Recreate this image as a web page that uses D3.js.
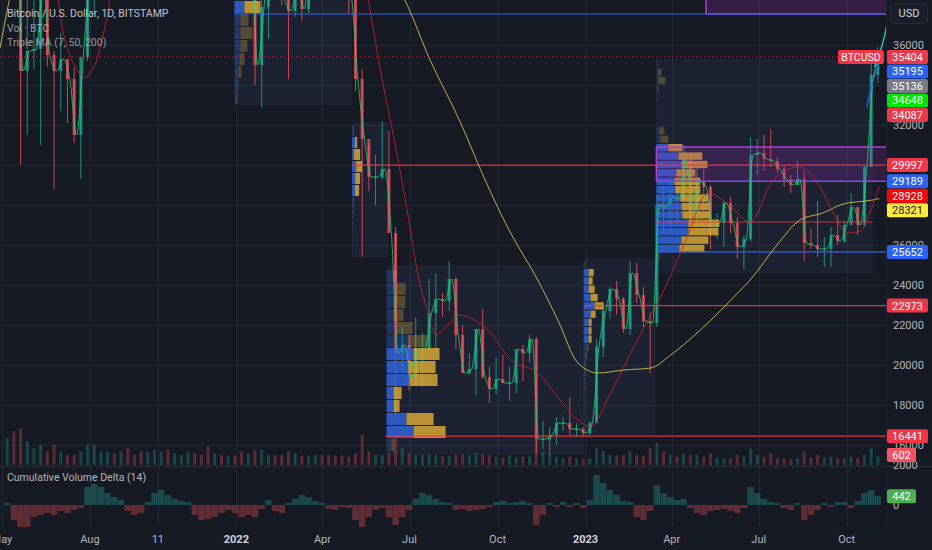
<!DOCTYPE html>
<html>
<head>
<meta charset="utf-8">
<script src="https://cdn.jsdelivr.net/npm/d3@7.9.0/dist/d3.min.js"></script>
<style>
  html, body { margin: 0; padding: 0; background: #161a25; }
  svg { display: block; font-family: Roboto, "Noto Sans", sans-serif; }
</style>
</head>
<body>
<svg id="chart" width="932" height="550"></svg>
<script>
// ─── Data (prices in thousands of USD, weekly candles) ────
const FIRST_WEEK = '2021-05-03';
const FIRST_OPEN_K = 56.6;

const highK = [59.5,59.6,45.8,40.9,39.5,39.3,41.3,35.7,36.6,35.1,34.9,34.5,40.9,
  44.7,47.2,49.4,50.5,52.9,52.9,48.8,47.4,48.5,56.6,62.0,67.0,63.7,63.5,69.0,66.3,59.3,59.2,51.9,50.1,51.9,52.1,
  47.5,44.4,43.5,38.9,42.6,45.8,44.7,39.8,45.4,42.6,42.4,47.5,48.2,47.0,42.4,42.9,40.8,
  40.0,34.8,31.0,30.5,32.2,31.7,26.9,21.9,21.5,
  22.4,21.6,24.3,24.6,23.6,25.2,24.4,22.0,20.6,21.8,22.8,19.9,20.4,20.5,19.9,19.7,21.0,21.5,
  21.4,17.2,16.9,17.4,17.4,18.4,17.1,16.9,
  17.2,21.3,23.0,23.9,24.2,23.4,25.2,25.1,23.9,22.6,28.5,28.9,29.2,
  28.8,31.0,30.5,30.0,29.8,29.0,27.6,28.2,28.4,27.4,26.5,31.4,31.3,31.5,31.8,30.4,30.0,29.5,30.2,29.7,
  26.8,28.2,26.4,26.9,27.5,27.2,28.6,27.9,30.0,35.2,35.9];

const lowK = [53.0,42.2,30.0,31.5,34.8,31.0,34.9,28.8,32.7,32.1,31.1,29.3,35.2,
  37.5,43.8,43.9,46.4,46.6,42.8,44.8,39.6,40.8,46.9,54.4,59.7,57.9,59.0,62.3,55.6,53.3,42.0,46.8,45.5,45.6,45.7,
  39.6,39.6,34.0,32.9,36.3,41.7,38.0,34.3,37.4,37.2,37.6,40.9,44.2,41.9,39.2,38.5,37.6,
  33.7,25.4,28.7,28.0,29.3,26.6,17.6,19.7,18.7,
  19.0,18.9,20.7,20.7,22.4,22.7,20.8,19.6,19.5,18.5,19.3,18.1,18.5,19.1,18.2,18.6,19.2,20.1,
  15.6,15.8,15.5,16.0,16.7,16.5,16.4,16.4,
  16.5,17.1,20.4,22.3,22.5,21.6,21.5,23.1,21.9,19.6,21.9,26.6,26.6,
  27.2,28.2,27.1,26.9,27.7,25.8,26.3,25.9,26.6,25.3,24.8,26.2,29.5,29.7,29.9,29.6,28.9,28.6,29.0,25.2,
  25.8,25.4,24.9,24.9,26.0,26.1,27.2,26.5,26.9,29.9,34.1];

const closeK = [58.2,46.4,34.7,35.7,35.8,39.1,35.5,34.7,35.3,34.3,31.5,35.4,39.9,
  44.6,47.0,49.3,48.9,49.9,48.3,47.3,42.7,48.2,54.9,61.5,60.9,61.3,63.3,65.5,59.7,57.3,49.4,50.1,46.7,50.4,47.3,
  41.9,43.1,35.0,37.9,42.4,42.2,38.4,37.7,38.9,37.8,42.2,46.8,46.4,42.2,39.7,39.4,38.5,
  34.3,31.3,29.4,29.4,29.8,26.6,20.6,21.0,19.3,
  20.8,20.8,22.6,23.3,23.2,24.3,21.5,19.6,19.8,21.8,19.4,18.8,19.3,19.1,19.1,20.8,20.6,21.3,
  16.3,16.3,16.5,17.1,17.1,16.8,16.8,16.6,
  17.1,20.9,22.7,23.8,23.3,21.8,24.6,23.5,22.2,22.1,28.0,27.9,28.4,
  28.3,30.3,27.6,29.2,28.9,26.9,27.1,28.1,27.1,25.9,26.3,30.5,30.6,30.3,30.2,29.8,29.3,29.0,29.3,26.1,
  26.0,25.8,25.8,26.5,26.2,27.0,27.9,27.0,29.9,34.5,35.404];

// average daily volume per week, BTC
const volume = [1900,2400,2600,1700,1200,1450,950,1450,950,720,720,950,1450,
  1450,950,950,840,950,1200,720,950,950,1080,950,1080,840,720,950,840,720,1320,840,720,670,670,
  960,840,1080,1080,720,720,720,960,840,670,670,720,720,720,670,670,600,
  840,2150,960,720,720,840,2150,1200,840,
  720,720,770,720,600,670,720,720,670,840,770,720,600,530,670,550,600,600,
  1900,960,840,600,480,600,480,430,
  480,1200,960,720,670,720,960,720,670,1200,1560,960,720,
  600,840,720,720,600,840,530,480,480,720,600,1200,720,600,840,480,480,430,480,960,
  530,720,530,600,480,480,600,480,720,1200,602];

// cumulative volume delta (14), BTC
const cvd = [100,-750,-1200,-1100,-600,-500,-400,-500,-300,-400,-250,-150,900,
  1050,900,600,400,250,-300,-500,-400,150,600,750,500,300,200,150,-500,-750,-700,-600,-400,-250,-400,
  -600,-500,-600,-200,250,-300,-400,100,300,500,400,200,100,-200,-250,-100,-150,
  -750,-1100,-600,-250,-150,-600,-1000,-600,-250,
  300,600,500,300,150,100,-250,-200,-300,-250,-200,-100,150,200,100,150,200,100,
  -1000,-500,100,-100,150,-100,100,-150,
  250,1500,1100,750,500,200,150,-600,-750,-300,1000,600,400,
  250,300,-150,-400,-500,-300,-250,-200,-300,-400,-150,900,600,300,150,100,-150,-250,100,-750,
  -500,-250,100,-100,150,150,-150,200,600,750,442];

const ma50 = [["2021-05-01",55.0],["2021-06-01",47.0],["2021-06-20",40.5],["2021-06-29",38.3],
  ["2021-07-03",36.9],["2021-07-08",35.9],["2021-07-17",34.9],["2021-07-24",34.4],["2021-07-28",34.35],
  ["2021-08-01",34.65],["2021-08-09",35.35],["2021-08-14",36.4],["2021-08-19",37.4],["2021-08-22",38.3],
  ["2021-09-10",44.0],["2021-11-01",52.0],["2021-12-15",58.0],["2022-02-01",44.0],["2022-04-01",41.0],
  ["2022-05-10",40.5],["2022-05-19",38.25],["2022-06-03",34.1],["2022-06-13",31.75],["2022-06-28",27.9],
  ["2022-07-11",24.25],["2022-07-18",23.0],["2022-07-29",21.5],["2022-08-08",21.9],["2022-08-23",22.5],
  ["2022-09-03",22.35],["2022-09-24",21.6],["2022-10-15",20.25],["2022-11-12",19.6],["2022-12-03",18.4],
  ["2022-12-24",17.25],["2023-01-06",16.9],["2023-01-27",18.6],["2023-02-24",21.25],["2023-03-24",23.75],
  ["2023-04-16",26.25],["2023-05-09",28.6],["2023-05-31",28.0],["2023-06-22",27.15],["2023-07-16",29.25],
  ["2023-08-13",29.9],["2023-09-03",28.9],["2023-09-17",27.6],["2023-10-01",26.6],["2023-10-15",26.7],
  ["2023-10-25",27.6],["2023-11-04",28.928]];

const ma200 = [["2021-04-29",35.85],["2021-05-09",38.3],["2021-06-15",43.0],["2021-10-01",45.0],
  ["2022-01-01",47.5],["2022-04-01",46.0],["2022-06-01",40.0],["2022-06-26",38.25],["2022-07-22",35.3],
  ["2022-08-23",32.15],["2022-09-18",29.25],["2022-10-13",26.75],["2022-11-12",24.25],["2022-12-03",22.25],
  ["2022-12-24",20.1],["2023-01-14",19.6],["2023-02-10",19.75],["2023-03-10",19.85],["2023-03-31",20.5],
  ["2023-05-01",21.75],["2023-06-12",23.75],["2023-06-22",24.25],["2023-07-20",26.0],["2023-08-13",27.25],
  ["2023-09-06",27.6],["2023-09-27",28.05],["2023-10-28",28.25],["2023-11-04",28.321]];

const blueTrend = [["2023-10-22",32.9],["2023-10-29",34.3],["2023-11-04",35.195]];
const cyanTrend = [["2023-10-30",34.9],["2023-11-03",35.4],["2023-11-07",36.0],["2023-11-11",36.8],["2023-11-14",37.8]];

// fixed range volume profiles
const profileStart = ["2021-12-30","2022-05-02","2022-06-07","2022-12-30","2023-03-16"];
const profileEnd   = ["2022-05-02","2022-06-09","2022-12-31","2023-03-15","2023-10-28"];
const profileBgLow  = [33.0, 25.4, 15.5, 16.5, 24.6];
const profileBgHigh = [48.0, 32.15, 25.0, 25.35, 35.3];
const profileRowLow  = [33.0, 25.4, 15.65, 16.5, 24.75];
const profileRowStep = [0.65, 0.6, 0.65, 0.415, 0.42];
const profileUp = [
  [2,3,4,5,6,6,6,10,12,14,13,12],
  [0.5,0.5,1,1,1,3,3,4,2,3,1],
  [5,27,20,7,7,23,22,27,22,10,7,7,9,7],
  [0.5,0.5,0.5,0.5,0.5,1,1,1,1,2,3,5,5,5,7,11,7,5,5,5,1],
  [1,2,23,25,32,32,26,25,24,19,18,20,25,22,12,4,3,0.5,0.5,0.5,0.5,1,2,2,1]
];
const profileDown = [
  [1,1,3,5,7,12,8,16,20,18,16,12],
  [0,0,0,0.5,1,4,5,6,6,2,0.5],
  [3,32,27,6,8,28,27,26,19,16,10,12,10,3],
  [0.3,0.3,0.3,0.3,0.3,0.5,0.5,1,1,1,2,3,3,3,5,9,7,6,4,5,0.5],
  [0.5,1,25,27,30,31,28,29,28,25,26,19,26,24,14,8,5,0,0,0,0.5,1,7,3,0]
];
const profileValueArea = [[7,11],[5,9],[1,7],[11,19],[2,14]];

// level lines: [start date, price]
const pocLevels  = [["2022-05-02",29.997],["2022-06-06",16.441],["2022-12-30",22.973]];
const pocShort   = [["2023-03-16","2023-10-28",27.15]];
const valLevels  = [["2021-12-30",37.55],["2023-03-16",25.652]];
const zoneBoxes  = [["2023-03-16",29.189,30.9],["2023-05-07",37.55,40.0]];

const lastPrice = 35.404;
const tagValues = [35404,35195,35136,34648,34087,29997,29189,28928,28321,25652,22973,16441];
const lastVolume = 602;
const lastCvd = 442;

const timeTicks  = ["2021-05-01","2021-08-01","2021-10-11","2022-01-01","2022-04-01","2022-07-01",
                    "2022-10-01","2023-01-01","2023-04-01","2023-07-01","2023-10-01"];
const timeLabels = ["May","Aug","11","2022","Apr","Jul","Oct","2023","Apr","Jul","Oct"];
const cvdTicks = [2000, 0];

// ─── Styles ───────────────────────────────────────────────────────────────
const BG = '#161a25', GRID = '#232734', TEXT = '#b2b5be';
const UP = '#22ab94', DOWN = '#f7525f';
const PROF_UP = '#2f63d8', PROF_DOWN = '#d6a634';
const tagColors = ['#f23645','#2962ff','#787b86','#00e600','#f23645','#f23645','#2962ff','#ff0000','#ffeb3b','#2962ff','#f23645','#f23645'];

const W = 932, H = 550, PANE_R = 886, PANE_B = 466, AXIS_T = 527;

// ─── Scales ───────────────────────────────────────────────────────────────
const parse = d3.utcParse('%Y-%m-%d');
const x = d3.scaleUtc().domain([parse('2021-04-29'), parse('2023-11-11')]).range([0, PANE_R]);
const y = d3.scaleLinear().domain([16, 36]).range([445, 45]);
const volY = d3.scaleLinear().domain([0, 3200]).range([465, 420]);
const cvdY = d3.scaleLinear().domain([0, 2000]).range([505, 465]);
const profW = d3.scaleLinear().domain([0, 100]).range([0, 100]);

const weekStart = i => d3.utcDay.offset(parse(FIRST_WEEK), 7 * i);
const weekMid = i => d3.utcHour.offset(weekStart(i), 84);
const weekEnd = i => d3.utcDay.offset(weekStart(i), 6);

const candles = closeK.map((c, i) => ({
  t: weekMid(i), end: weekEnd(i),
  o: i === 0 ? FIRST_OPEN_K : closeK[i - 1], h: highK[i], l: lowK[i], c,
  v: volume[i], d: cvd[i]
}));

const svg = d3.select('#chart');
svg.append('rect').attr('width', W).attr('height', H).attr('fill', BG);

svg.append('defs').append('clipPath').attr('id', 'mainClip')
  .append('rect').attr('width', PANE_R).attr('height', PANE_B);
svg.append('defs').append('clipPath').attr('id', 'cvdClip')
  .append('rect').attr('y', PANE_B + 1).attr('width', PANE_R).attr('height', AXIS_T - PANE_B - 1);

// ─── Grid ─────────────────────────────────────────────────────────────────
const grid = svg.append('g');
grid.selectAll('.vg').data(timeTicks).join('line')
  .attr('x1', d => Math.round(x(parse(d))) + 0.5).attr('x2', d => Math.round(x(parse(d))) + 0.5)
  .attr('y1', 0).attr('y2', AXIS_T).attr('stroke', GRID);
grid.selectAll('.hg').data(y.ticks(12).filter(v => y(v) >= 0)).join('line')
  .attr('x1', 0).attr('x2', PANE_R).attr('y1', d => Math.round(y(d)) + 0.5).attr('y2', d => Math.round(y(d)) + 0.5)
  .attr('stroke', GRID);

const main = svg.append('g').attr('clip-path', 'url(#mainClip)');

// ─── Volume profile backgrounds ───────────────────────────────────────────
main.append('g').selectAll('rect').data(profileStart).join('rect')
  .attr('x', (d, i) => x(parse(d)))
  .attr('width', (d, i) => x(parse(profileEnd[i])) - x(parse(d)))
  .attr('y', (d, i) => y(profileBgHigh[i]))
  .attr('height', (d, i) => y(profileBgLow[i]) - y(profileBgHigh[i]))
  .attr('fill', 'rgba(90,120,180,0.09)');

// ─── Volume overlay ───────────────────────────────────────────────────────
main.append('g').selectAll('rect').data(candles).join('rect')
  .attr('x', d => x(d.t) - 1.5).attr('width', 3)
  .attr('y', d => volY(d.v)).attr('height', d => volY(0) - volY(d.v))
  .attr('fill', d => d.c >= d.o ? UP : DOWN).attr('opacity', 0.3);

// ─── Candles ──────────────────────────────────────────────────────────────
const cg = main.append('g');
cg.selectAll('line').data(candles).join('line')
  .attr('x1', d => x(d.t)).attr('x2', d => x(d.t))
  .attr('y1', d => y(d.h)).attr('y2', d => y(d.l))
  .attr('stroke', d => d.c >= d.o ? UP : DOWN).attr('stroke-width', 1).attr('opacity', 0.8);
cg.selectAll('rect').data(candles).join('rect')
  .attr('x', d => x(d.t) - 1.5).attr('width', 3)
  .attr('y', d => y(Math.max(d.o, d.c)))
  .attr('height', d => Math.max(1, Math.abs(y(d.o) - y(d.c))))
  .attr('fill', d => d.c >= d.o ? UP : DOWN).attr('opacity', 0.75);

// ─── Volume profile rows ──────────────────────────────────────────────────
profileStart.forEach((start, b) => {
  const x0 = x(parse(start));
  const rows = profileUp[b].map((u, k) => ({
    u, dn: profileDown[b][k],
    top: y(profileRowLow[b] + profileRowStep[b] * (k + 1)),
    bot: y(profileRowLow[b] + profileRowStep[b] * k),
    va: k >= profileValueArea[b][0] && k <= profileValueArea[b][1]
  }));
  const g = main.append('g');
  g.selectAll('.u').data(rows).join('rect')
    .attr('x', x0).attr('width', d => profW(d.u))
    .attr('y', d => d.top).attr('height', d => Math.max(0.5, d.bot - d.top - 1))
    .attr('fill', PROF_UP).attr('opacity', d => d.va ? 0.85 : 0.3);
  g.selectAll('.d').data(rows).join('rect')
    .attr('x', d => x0 + profW(d.u)).attr('width', d => profW(d.dn))
    .attr('y', d => d.top).attr('height', d => Math.max(0.5, d.bot - d.top - 1))
    .attr('fill', PROF_DOWN).attr('opacity', d => d.va ? 0.85 : 0.3);
});

// ─── Zone boxes ───────────────────────────────────────────────────────────
const zb = main.append('g');
zoneBoxes.forEach(([start, lo, hi], i) => {
  const x0 = x(parse(start));
  zb.append('rect').attr('x', x0).attr('width', PANE_R - x0)
    .attr('y', y(hi)).attr('height', y(lo) - y(hi)).attr('fill', 'rgba(156,39,176,0.22)');
  zb.append('line').attr('x1', x0).attr('x2', PANE_R).attr('y1', y(hi)).attr('y2', y(hi))
    .attr('stroke', '#b041d0').attr('stroke-width', 1.5);
  zb.append('line').attr('x1', x0).attr('x2', PANE_R).attr('y1', y(lo)).attr('y2', y(lo))
    .attr('stroke', i === 0 ? '#7a4cf0' : '#9a45d8').attr('stroke-width', 1.5);
  zb.append('line').attr('x1', x0).attr('x2', x0).attr('y1', y(hi)).attr('y2', y(lo))
    .attr('stroke', '#b041d0').attr('stroke-width', 1.5);
});

// ─── Level lines ──────────────────────────────────────────────────────────
const lv = main.append('g');
lv.selectAll('.poc').data(pocLevels).join('line')
  .attr('x1', d => x(parse(d[0]))).attr('x2', PANE_R)
  .attr('y1', d => y(d[1])).attr('y2', d => y(d[1]))
  .attr('stroke', '#f23645').attr('stroke-width', 1.2).attr('opacity', 0.9);
lv.selectAll('.pocs').data(pocShort).join('line')
  .attr('x1', d => x(parse(d[0]))).attr('x2', d => x(parse(d[1])))
  .attr('y1', d => y(d[2])).attr('y2', d => y(d[2]))
  .attr('stroke', '#f23645').attr('stroke-width', 1.2).attr('opacity', 0.8);
lv.selectAll('.val').data(valLevels).join('line')
  .attr('x1', d => x(parse(d[0]))).attr('x2', PANE_R)
  .attr('y1', d => y(d[1])).attr('y2', d => y(d[1]))
  .attr('stroke', '#2f63e8').attr('stroke-width', 1.2);

// ─── Moving averages ──────────────────────────────────────────────────────
const dateLine = d3.line().x(d => x(parse(d[0]))).y(d => y(d[1])).curve(d3.curveMonotoneX);
main.append('path').attr('d', dateLine(ma200)).attr('fill', 'none')
  .attr('stroke', '#e6d24a').attr('stroke-width', 1).attr('opacity', 0.8);
main.append('path').attr('d', dateLine(ma50)).attr('fill', 'none')
  .attr('stroke', '#d0202c').attr('stroke-width', 1).attr('opacity', 0.8);
main.append('path')
  .attr('d', d3.line().x(d => x(d.end)).y(d => y(d.c)).curve(d3.curveMonotoneX)(candles))
  .attr('fill', 'none').attr('stroke', '#18d26a').attr('stroke-width', 1).attr('opacity', 0.8);
main.append('path').attr('d', dateLine(blueTrend)).attr('fill', 'none')
  .attr('stroke', '#2962ff').attr('stroke-width', 1.2);
main.append('path').attr('d', dateLine(cyanTrend)).attr('fill', 'none')
  .attr('stroke', '#22d3c5').attr('stroke-width', 1.3);

// current price line
main.append('line').attr('x1', 0).attr('x2', 838)
  .attr('y1', y(lastPrice)).attr('y2', y(lastPrice))
  .attr('stroke', '#f23645').attr('stroke-dasharray', '1,3').attr('opacity', 0.8);

// ─── Legend ───────────────────────────────────────────────────────────────
const legend = svg.append('g').attr('font-size', 10.5);
['Bitcoin / U.S. Dollar, 1D, BITSTAMP', 'Vol · BTC', 'Triple MA (7, 50, 200)'].forEach((t, i) => {
  legend.append('text').attr('x', 7).attr('y', 17 + i * 14.5)
    .attr('fill', i === 0 ? '#d1d4dc' : TEXT).attr('opacity', i === 0 ? 0.9 : 0.8).text(t);
});

// ─── Pane separators ──────────────────────────────────────────────────────
svg.append('line').attr('x1', 0).attr('x2', W).attr('y1', PANE_B + 0.5).attr('y2', PANE_B + 0.5).attr('stroke', '#2a2e39');
svg.append('line').attr('x1', PANE_R + 0.5).attr('x2', PANE_R + 0.5).attr('y1', 0).attr('y2', AXIS_T).attr('stroke', '#1f2330');

// ─── CVD pane ─────────────────────────────────────────────────────────────
const cvdG = svg.append('g').attr('clip-path', 'url(#cvdClip)');
cvdG.selectAll('rect').data(candles).join('rect')
  .attr('x', d => x(d.t) - 3.2).attr('width', 6.4)
  .attr('y', d => Math.min(cvdY(0), cvdY(d.d)))
  .attr('height', d => Math.abs(cvdY(d.d) - cvdY(0)))
  .attr('fill', d => d.d >= 0 ? '#26a69a' : '#ef5350').attr('opacity', 0.35);
svg.append('text').attr('x', 7).attr('y', 481).attr('font-size', 10.5).attr('fill', TEXT)
  .text('Cumulative Volume Delta (14)');

// ─── Right axis: price tags with collision stacking ───────────────────────
const tags = tagValues.map((v, i) => ({ v, color: tagColors[i], yy: y(v / 1000) }));
let prev = -Infinity;
tags.forEach(t => { if (t.yy < prev + 14.5) t.yy = prev + 14.5; prev = t.yy; });
tags.push({ v: lastVolume, color: '#f7525f', yy: volY(lastVolume) - 1.5, narrow: true });
tags.push({ v: lastCvd, color: '#4caf50', yy: cvdY(lastCvd), narrow: true });

// tick labels that sit right under a tag are hidden, as the platform does
const axisG = svg.append('g').attr('font-size', 11).attr('fill', TEXT);
axisG.selectAll('.pt')
  .data(y.ticks(12).filter(v => y(v) > 8 && !tags.some(t => Math.abs(t.yy - y(v)) <= 5.5)))
  .join('text')
  .attr('x', 893).attr('y', d => y(d)).attr('dy', '0.35em')
  .text(d => d3.format('d')(d * 1000));
axisG.selectAll('.ct').data(cvdTicks).join('text')
  .attr('x', 893).attr('y', d => cvdY(d)).attr('dy', '0.35em').text(d => d);

const tagG = svg.append('g').attr('font-size', 11);
tagG.selectAll('rect').data(tags).join('rect')
  .attr('x', PANE_R + 1).attr('y', d => d.yy - 7).attr('width', d => d.narrow ? 29 : 41).attr('height', 14)
  .attr('rx', 2).attr('fill', d => d.color);
tagG.selectAll('text').data(tags).join('text')
  .attr('x', d => PANE_R + 1 + (d.narrow ? 14.5 : 20.5)).attr('y', d => d.yy).attr('dy', '0.36em')
  .attr('text-anchor', 'middle')
  .attr('fill', d => d.color === '#ffeb3b' ? '#131722' : '#ffffff').text(d => d.v);

// symbol tag on the price line
svg.append('rect').attr('x', 838).attr('y', y(lastPrice) - 7).attr('width', 46).attr('height', 14)
  .attr('rx', 2).attr('fill', '#f23645');
svg.append('text').attr('x', 861).attr('y', y(lastPrice)).attr('dy', '0.36em').attr('text-anchor', 'middle')
  .attr('font-size', 10.5).attr('fill', '#ffffff').text('BTCUSD');

// currency box
svg.append('rect').attr('x', 890.5).attr('y', 3.5).attr('width', 37).attr('height', 20).attr('rx', 3)
  .attr('fill', '#1a1e2a').attr('stroke', '#2a2e39');
svg.append('text').attr('x', 909).attr('y', 13.5).attr('dy', '0.36em').attr('text-anchor', 'middle')
  .attr('font-size', 11).attr('fill', '#d1d4dc').text('USD');

// ─── Time axis ────────────────────────────────────────────────────────────
svg.append('g').selectAll('text').data(timeTicks).join('text')
  .attr('x', d => x(parse(d))).attr('y', 539).attr('dy', '0.36em').attr('text-anchor', 'middle')
  .attr('font-size', 11)
  .attr('font-weight', (d, i) => /^\d{4}$/.test(timeLabels[i]) ? 700 : 400)
  .attr('fill', (d, i) => /^\d{4}$/.test(timeLabels[i]) ? '#d1d4dc' : TEXT)
  .text((d, i) => timeLabels[i]);
</script>
</body>
</html>
